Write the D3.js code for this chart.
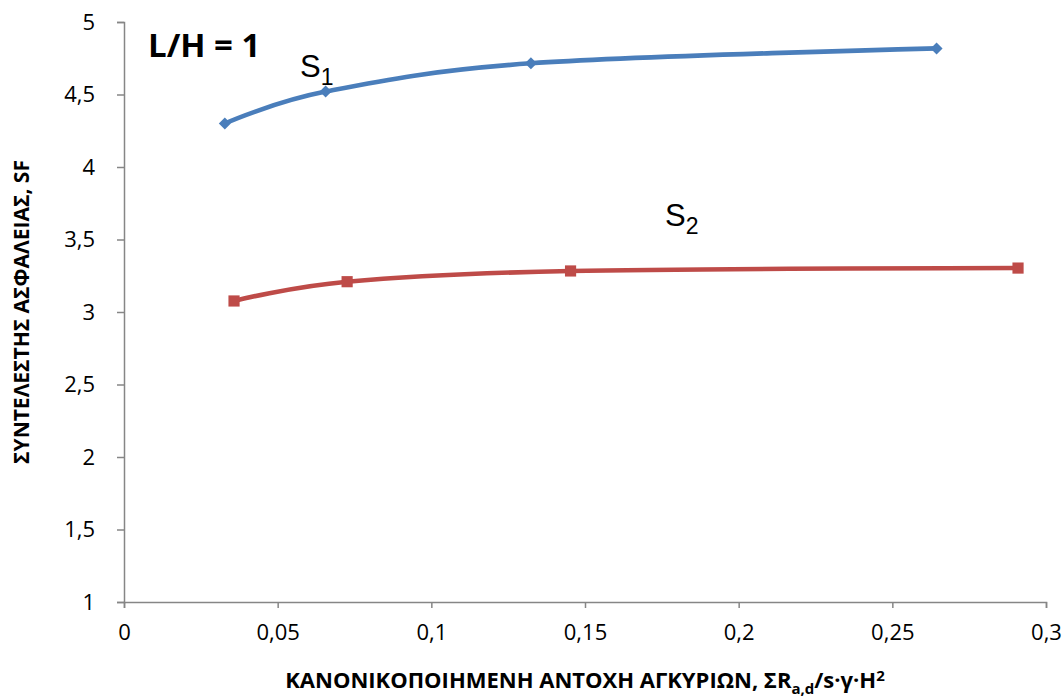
<!DOCTYPE html>
<html>
<head>
<meta charset="utf-8">
<script src="https://cdn.jsdelivr.net/npm/d3@7"></script>
<style>
  html, body { margin: 0; padding: 0; background: #fff; }
  svg { display: block; }
</style>
</head>
<body>
<svg id="chart" width="1064" height="700"></svg>
<script>
// Safety factor vs normalised anchor resistance, L/H = 1
const s1X = [0.0328, 0.0656, 0.1324, 0.2644];
const s1Y = [4.30, 4.52, 4.715, 4.818];
const s2X = [0.0358, 0.0726, 0.1453, 0.2909];
const s2Y = [3.076, 3.209, 3.283, 3.303];

const xTicks = [0, 0.05, 0.1, 0.15, 0.2, 0.25, 0.3];
const yTicks = [1, 1.5, 2, 2.5, 3, 3.5, 4, 4.5, 5];

const W = 1064, H = 700;
const margin = { left: 124, right: 18, top: 22, bottom: 98 };
const plotW = W - margin.left - margin.right;
const plotH = H - margin.top - margin.bottom;

const svg = d3.select("#chart");
const g = svg.append("g").attr("transform", `translate(${margin.left},${margin.top})`);

const x = d3.scaleLinear().domain([0, 0.3]).range([0, plotW]);
const y = d3.scaleLinear().domain([1, 5]).range([plotH, 0]);

const fmt = d => String(d).replace(".", ",");
const axisColor = "#868686";
const tickFont = "'Open Sans', sans-serif";

// x axis
const xAxis = g.append("g")
  .attr("transform", `translate(0,${plotH})`)
  .call(d3.axisBottom(x).tickValues(xTicks).tickFormat(fmt).tickSize(6).tickPadding(16));
// y axis
const yAxis = g.append("g")
  .call(d3.axisLeft(y).tickValues(yTicks).tickFormat(fmt).tickSize(7).tickPadding(22));

[xAxis, yAxis].forEach(a => {
  a.select(".domain").attr("stroke", axisColor).attr("stroke-width", 1.5);
  a.selectAll(".tick line").attr("stroke", axisColor).attr("stroke-width", 1.5);
  a.selectAll(".tick text")
    .attr("fill", "#000")
    .style("font-family", tickFont)
    .style("font-size", "22px");
});

// smoothed series lines
const line = d3.line()
  .x(d => x(d[0]))
  .y(d => y(d[1]))
  .curve(d3.curveCatmullRom.alpha(0));

const series = [
  { xs: s1X, ys: s1Y, color: "#4A7EBB", marker: "diamond" },
  { xs: s2X, ys: s2Y, color: "#BE4B48", marker: "square" }
];

series.forEach(s => {
  const pts = s.xs.map((v, i) => [v, s.ys[i]]);
  g.append("path")
    .datum(pts)
    .attr("fill", "none")
    .attr("stroke", s.color)
    .attr("stroke-width", 4.6)
    .attr("stroke-linecap", "round")
    .attr("d", line);

  const sym = d3.symbol().type(d3.symbolSquare).size(s.marker === "diamond" ? 72 : 125);
  g.selectAll(null)
    .data(pts)
    .enter()
    .append("path")
    .attr("d", sym)
    .attr("fill", s.color)
    .attr("transform", d => `translate(${x(d[0])},${y(d[1])})` + (s.marker === "diamond" ? " rotate(45)" : ""));
});

// series labels
function seriesLabel(px, py, sub) {
  const t = svg.append("text")
    .attr("x", px).attr("y", py)
    .style("font-family", "'Liberation Sans', Arial, sans-serif")
    .style("font-size", "31px")
    .attr("fill", "#000");
  t.append("tspan").text("S");
  t.append("tspan").attr("dy", 8).style("font-size", "23px").text(sub);
}
seriesLabel(300, 77, "1");
seriesLabel(665, 226, "2");

// panel label
svg.append("text")
  .attr("x", 148).attr("y", 57)
  .style("font-family", "'Open Sans', sans-serif")
  .style("font-weight", "bold")
  .style("font-size", "33px")
  .attr("fill", "#000")
  .text("L/H = 1");

// axis titles
const titleFont = "'Open Sans', sans-serif";
const xt = svg.append("text")
  .attr("x", margin.left + plotW / 2).attr("y", 688)
  .attr("text-anchor", "middle")
  .style("font-family", titleFont)
  .style("font-weight", "bold")
  .style("font-size", "22px")
  .attr("fill", "#000");
xt.append("tspan").text("ΚΑΝΟΝΙΚΟΠΟΙΗΜΕΝΗ ΑΝΤΟΧΗ ΑΓΚΥΡΙΩΝ, ΣR");
xt.append("tspan").attr("dy", 6).style("font-size", "15px").text("a,d");
xt.append("tspan").attr("dy", -6).text("/s·γ·H");
xt.append("tspan").attr("dy", -7).style("font-size", "15px").text("2");

svg.append("text")
  .attr("transform", `translate(29,${margin.top + plotH / 2}) rotate(-90)`)
  .attr("text-anchor", "middle")
  .style("font-family", titleFont)
  .style("font-weight", "bold")
  .style("font-size", "21px")
  .attr("fill", "#000")
  .text("ΣΥΝΤΕΛΕΣΤΗΣ ΑΣΦΑΛΕΙΑΣ, SF");
</script>
</body>
</html>
